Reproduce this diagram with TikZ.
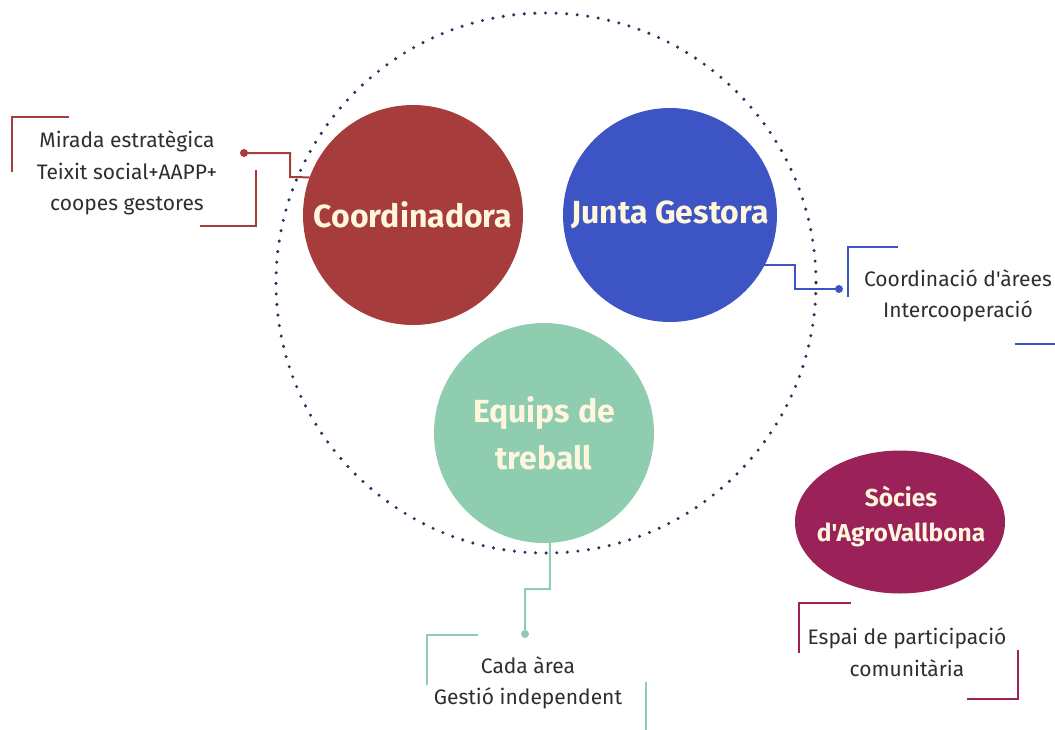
\documentclass[tikz,border=0pt]{standalone}
\usepackage{fontspec}
\usetikzlibrary{shapes.geometric}
\setmainfont{Fira Sans}[Ligatures=TeXOff]
\definecolor{cred}{HTML}{A63C3C}
\definecolor{cblue}{HTML}{3D55C4}
\definecolor{cmint}{HTML}{8ECDB0}
\definecolor{cplum}{HTML}{9A2259}
\definecolor{ccream}{HTML}{FFF6DD}
\definecolor{ctext}{HTML}{2E2E2E}
\definecolor{cdots}{HTML}{2B3060}
\begin{document}
\begin{tikzpicture}[x=1pt,y=-1pt,
  bigc/.style={circle,inner sep=0pt,outer sep=0pt,text=ccream,font=\fontsize{32}{47}\selectfont\bfseries,align=center},
  lbl/.style={text=ctext,font=\fontsize{21}{31.5}\selectfont,align=center,inner sep=0pt},
  link/.style={line width=2pt},
  brk/.style={line width=2pt},
  dotc/.style={circle,inner sep=0pt,minimum size=8pt}]
\useasboundingbox (0,0) rectangle (1055,729);
% dotted circle
\draw[cdots,line width=3.4pt,line cap=round,dash pattern=on 0pt off 10.6pt] (546,283) circle (270);
% connectors
\coordinate (dotL) at (244,153);
\coordinate (dotR) at (839,289);
\coordinate (dotB) at (525,634);
\node[bigc,fill=cred,minimum size=220pt] (coord) at (413,215) {Coordinadora};
\node[bigc,fill=cblue,minimum size=214pt] (jg) at (670,215) {Junta Gestora};
\node[bigc,fill=cmint,minimum size=220pt] (eq) at (544,433) {Equips de\\treball};
\node[ellipse,fill=cplum,minimum width=210pt,minimum height=143pt,inner sep=0pt] (soc) at (900,522) {};
\node[text=ccream,font=\fontsize{24.5}{35}\selectfont\bfseries,align=center,inner sep=0pt] (socT) at (901,516) {Sòcies\\d'AgroVallbona};
\draw[link,cred] (dotL) -| (290,177) -- (coord.160);
\draw[link,cblue] (jg.-28) -| (795,289) -- (dotR);
\draw[link,cmint] (eq.-87) -- (550,589) -| (dotB);
\node[dotc,fill=cred] at (dotL) {};
\node[dotc,fill=cblue] at (dotR) {};
\node[dotc,fill=cmint] at (dotB) {};
% texts
\node[lbl] (tL) at (127,173) {Mirada estratègica\\Teixit social+AAPP+\\coopes gestores};
\node[lbl] (tR) at (958,296) {Coordinació d'àrees\\Intercooperació};
\node[lbl] (tB) at (528,683) {Cada àrea\\Gestió independent};
\node[lbl] (tS) at (907,652) {Espai de participació\\comunitària};
% brackets
\draw[brk,cred] (12,172) -- (12,117) -- (69,117);
\draw[brk,cred] (200,226) -- (256,226) -- (256,170);
\draw[brk,cblue] (848,297) -- (848,247) -- (898,247);
\draw[brk,cblue] (1015,344) -- (1056,344);
\draw[brk,cmint] (427,685) -- (427,635) -- (478,635);
\draw[brk,cmint] (646,682) -- (646,730);
\draw[brk,cplum] (799,653) -- (799,603) -- (851,603);
\draw[brk,cplum] (967,699) -- (1018,699) -- (1018,650);
\end{tikzpicture}
\end{document}
